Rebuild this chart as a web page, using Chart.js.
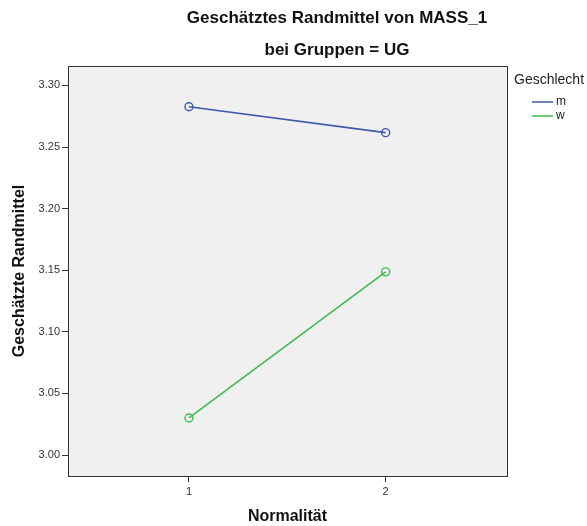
<!DOCTYPE html>
<html>
<head>
<meta charset="utf-8">
<script src="https://cdn.jsdelivr.net/npm/chart.js@4/dist/chart.umd.min.js"></script>
<style>
html,body{margin:0;padding:0;background:#fff;}
#wrap{width:587px;height:526px;position:relative;}
</style>
</head>
<body>
<div id="wrap"><canvas id="c" width="587" height="526"></canvas></div>
<script>
// ---- data ----
const categories = [1, 2];
const seriesNames = ["m", "w"];
const valuesM = [3.2827, 3.2617];
const valuesW = [3.0301, 3.1487];
const yTickValues = [3.00, 3.05, 3.10, 3.15, 3.20, 3.25, 3.30];
const xTickValues = [1, 2];
const titleLines = ["Geschätztes Randmittel von MASS_1", "bei Gruppen = UG"];
const legendTitle = "Geschlecht";
const xTitle = "Normalität";
const yTitle = "Geschätzte Randmittel";

const colors = ["#3e58ac", "#3dbb4f"];
const FONT = "'Liberation Sans', Arial, sans-serif";

const seriesValues = [valuesM, valuesW];
const datasets = seriesNames.map((name, i) => ({
  label: name,
  data: categories.map((c, j) => ({x: c, y: seriesValues[i][j]})),
  borderColor: colors[i],
  backgroundColor: "rgba(0,0,0,0)",
  borderWidth: 1.6,
  pointRadius: 4,
  pointBorderWidth: 1.4,
  pointBackgroundColor: "rgba(0,0,0,0)",
  pointBorderColor: colors[i],
  tension: 0
}));

const framePlugin = {
  id: "frame",
  beforeDraw(chart) {
    const {ctx, chartArea: a} = chart;
    ctx.save();
    ctx.fillStyle = "#f0f0f0";
    ctx.fillRect(a.left, a.top, a.right - a.left, a.bottom - a.top);
    ctx.restore();
  },
  afterDraw(chart) {
    const {ctx, chartArea: a} = chart;
    ctx.save();
    ctx.strokeStyle = "#333";
    ctx.lineWidth = 1;
    ctx.strokeRect(Math.round(a.left) + 0.5, Math.round(a.top) + 0.5,
                   Math.round(a.right - a.left), Math.round(a.bottom - a.top));
    // titles
    ctx.fillStyle = "#111";
    ctx.font = "bold 17px " + FONT;
    ctx.textAlign = "center";
    ctx.textBaseline = "middle";
    ctx.fillText(titleLines[0], 337, 18);
    ctx.fillText(titleLines[1], 337, 50);
    // legend
    ctx.textAlign = "left";
    ctx.font = "14px " + FONT;
    ctx.fillStyle = "#222";
    ctx.fillText(legendTitle, 514, 80);
    chart.data.datasets.forEach((ds, i) => {
      const y = 102 + i * 14;
      ctx.strokeStyle = ds.borderColor;
      ctx.lineWidth = 1.5;
      ctx.beginPath();
      ctx.moveTo(532, y);
      ctx.lineTo(553, y);
      ctx.stroke();
      ctx.fillStyle = "#222";
      ctx.font = "12px " + FONT;
      ctx.fillText(ds.label, 556, y);
    });
    ctx.restore();
  }
};

new Chart(document.getElementById("c"), {
  type: "line",
  data: {datasets},
  plugins: [framePlugin],
  options: {
    responsive: false,
    animation: false,
    devicePixelRatio: 1,
    layout: {padding: {top: 66, right: 80, left: 0, bottom: 0}},
    plugins: {legend: {display: false}, title: {display: false}, tooltip: {enabled: false}},
    scales: {
      x: {
        type: "linear",
        min: 0.385,
        max: 2.617,
        afterBuildTicks(s) { s.ticks = xTickValues.map(v => ({value: v})); },
        afterFit(s) { s.height = 50; },
        grid: {display: true, drawOnChartArea: false, drawTicks: true, tickLength: 6, tickColor: "#333", tickWidth: 1, color: "#333"},
        border: {display: false},
        ticks: {color: "#333", font: {family: FONT, size: 11}, padding: 3, maxRotation: 0, callback: v => String(v)},
        title: {display: true, text: xTitle, color: "#111", font: {family: FONT, size: 16, weight: "bold"}, padding: {top: 0, bottom: 0}}
      },
      y: {
        type: "linear",
        min: 2.983,
        max: 3.3158,
        afterBuildTicks(s) { s.ticks = yTickValues.map(v => ({value: v})); },
        afterFit(s) { s.width = 68; },
        grid: {display: true, drawOnChartArea: false, drawTicks: true, tickLength: 6, tickColor: "#333", tickWidth: 1, color: "#333"},
        border: {display: false},
        ticks: {color: "#333", font: {family: FONT, size: 11}, padding: 2, callback: v => Number(v).toFixed(2)},
        title: {display: true, text: yTitle, color: "#111", font: {family: FONT, size: 16, weight: "bold"}, padding: {top: 10, bottom: 0}}
      }
    }
  }
});
</script>
</body>
</html>
